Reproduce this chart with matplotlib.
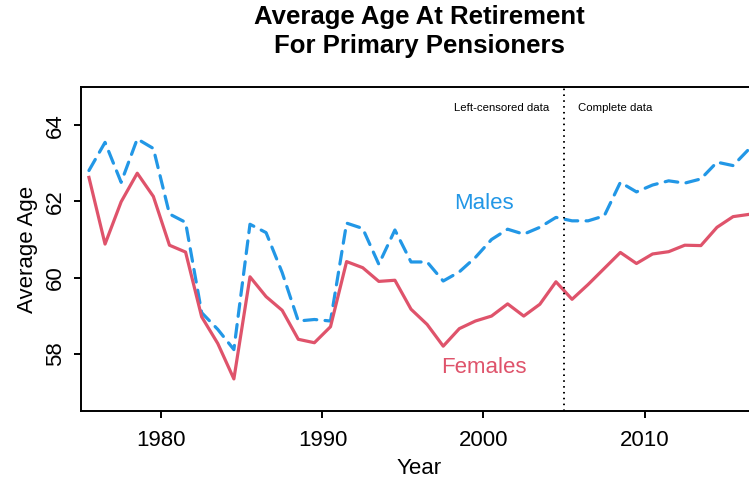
import matplotlib.pyplot as plt

plt.rcParams['font.family'] = ['Liberation Sans', 'DejaVu Sans']

# data (years plotted at mid-year)
years = [1975.5 + i for i in range(42)]
females = [62.63, 60.88, 61.99, 62.74, 62.13, 60.85, 60.67, 58.97, 58.27, 57.34,
           60.02, 59.50, 59.14, 58.38, 58.29, 58.71, 60.42, 60.26, 59.90, 59.93,
           59.17, 58.77, 58.20, 58.66, 58.86, 58.99, 59.31, 58.99, 59.30, 59.89,
           59.43, 59.82, 60.24, 60.66, 60.37, 60.62, 60.68, 60.85, 60.84, 61.32,
           61.60, 61.66]
males = [62.81, 63.55, 62.50, 63.64, 63.39, 61.67, 61.45, 59.08, 58.64, 58.11,
         61.40, 61.18, 60.13, 58.86, 58.90, 58.86, 61.43, 61.29, 60.35, 61.25,
         60.41, 60.41, 59.91, 60.15, 60.53, 61.00, 61.27, 61.14, 61.32, 61.58,
         61.49, 61.49, 61.62, 62.50, 62.25, 62.43, 62.54, 62.48, 62.59, 63.03,
         62.94, 63.38]
split_year = 2005
xticks = [1980, 1990, 2000, 2010]
yticks = [58, 60, 62, 64]

red = '#DF536B'
blue = '#2297E6'

fig = plt.figure(figsize=(7.49, 4.84), dpi=100)
ax = fig.add_axes([0.108, 0.151, 0.903, 0.669])

ax.plot(years, males, color=blue, lw=2.3, linestyle=(0, (4, 2.6)),
        dash_capstyle='round')
ax.plot(years, females, color=red, lw=2.3)
ax.axvline(split_year, color='black', lw=1.4, linestyle=(0, (0.8, 2.2)))

ax.text(split_year - 0.9, 64.45, 'Left-censored data', ha='right', va='center', fontsize=8.2)
ax.text(split_year + 0.9, 64.45, 'Complete data', ha='left', va='center', fontsize=8.2)
ax.text(2000, 61.95, 'Males', color=blue, fontsize=16, ha='center', va='center')
ax.text(2000, 57.65, 'Females', color=red, fontsize=16, ha='center', va='center')

ax.set_xlim(1975, 2017)
ax.set_ylim(56.5, 65)
ax.set_xticks(xticks)
ax.set_yticks(yticks)
ax.tick_params(axis='both', direction='out', length=5, width=1.4, labelsize=16)
ax.tick_params(axis='x', pad=9)
ax.tick_params(axis='y', pad=6)
for lbl in ax.get_yticklabels():
    lbl.set_rotation(90)
    lbl.set_va('center')
for s in ax.spines.values():
    s.set_linewidth(1.4)

ax.set_xlabel('Year', fontsize=16, labelpad=5)
ax.set_ylabel('Average Age', fontsize=16, labelpad=5)
fig.text(0.56, 0.935, 'Average Age At Retirement\nFor Primary Pensioners',
         ha='center', va='center', fontsize=18.5, fontweight='bold', linespacing=1.3)

fig.savefig('out.png', dpi=100)
